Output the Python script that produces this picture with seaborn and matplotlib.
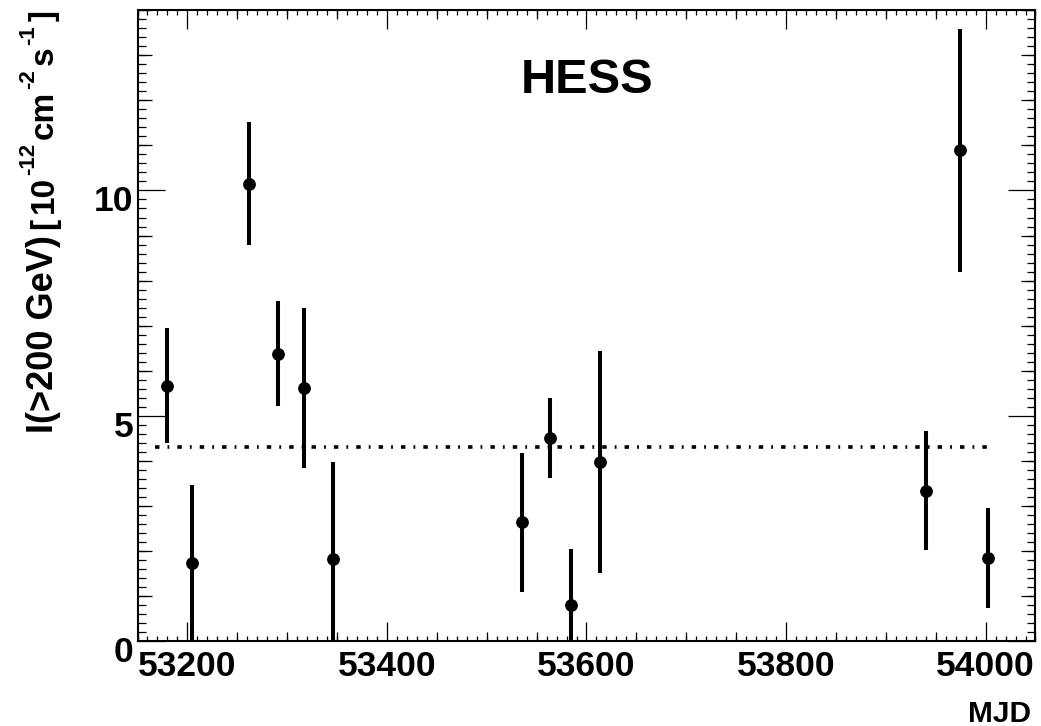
import numpy as np
import matplotlib
matplotlib.use('Agg')
import matplotlib.pyplot as plt
import matplotlib.transforms as mtransforms
from matplotlib.ticker import MultipleLocator
import seaborn as sns

# HESS light curve: integral flux above 200 GeV, units 1e-12 cm^-2 s^-1
mjd = [53180, 53205, 53262, 53291, 53317, 53346, 53535, 53563, 53584, 53614, 53940, 53974, 54002]
flux = [5.67, 1.74, 10.15, 6.38, 5.62, 1.83, 2.64, 4.51, 0.81, 3.97, 3.34, 10.89, 1.85]
flux_err = [1.28, 1.72, 1.37, 1.17, 1.78, 2.16, 1.55, 0.88, 1.24, 2.46, 1.32, 2.70, 1.11]

# constant fit
mean_flux = 4.32
mean_start, mean_end = 53168, 54002

x_major = [53200, 53400, 53600, 53800, 54000]
y_major = [0, 5, 10]

# y title pieces: text, font size (pt), superscript?, gap before (pt)
ylabel_parts = ['I(>200 GeV)', '[', '10', '-12', 'cm', '-2', 's', '-1', ']']
ylabel_size = [26, 24, 24, 16, 24, 16, 24, 16, 24]
ylabel_sup = [False, False, False, True, False, True, False, True, False]
ylabel_gap = [0, 5, 3, 1, 3, 1, 3, 1, 3]

sns.set_style('ticks')
plt.rcParams['font.family'] = ['Liberation Sans', 'DejaVu Sans']
plt.rcParams['font.weight'] = 'bold'
plt.rcParams['lines.scale_dashes'] = False
for k in ['text.color', 'axes.labelcolor', 'xtick.color', 'ytick.color', 'axes.edgecolor']:
    plt.rcParams[k] = 'black'

fig = plt.figure(figsize=(10.41, 7.26), dpi=100)
ax = fig.add_axes([0.1321, 0.1164, 0.8626, 0.8698])

ax.errorbar(mjd, flux, yerr=flux_err, fmt='none', ecolor='black',
            elinewidth=2.9, capsize=0, zorder=2)
sns.scatterplot(x=mjd, y=flux, s=85, color='black', edgecolor='black',
                linewidth=0, zorder=3, ax=ax, legend=False)
ax.plot([mean_start, mean_end], [mean_flux, mean_flux], color='black',
        linewidth=2.6, dashes=(3.2, 5.8, 1.3, 5.8), zorder=1)

ax.set_xlim(53150, 54050)
ax.set_ylim(0, 14)

for side in ['left', 'right', 'top', 'bottom']:
    ax.spines[side].set_visible(True)
    ax.spines[side].set_linewidth(1.5)
    ax.spines[side].set_color('black')

ax.set_xticks(x_major)
ax.set_yticks(y_major)
ax.xaxis.set_minor_locator(MultipleLocator(10))
ax.yaxis.set_minor_locator(MultipleLocator(0.2))
ax.tick_params(axis='x', which='major', direction='in', length=13.7, width=0.9,
               top=True, bottom=True, labelsize=25.5, pad=6)
ax.tick_params(axis='x', which='minor', direction='in', length=3.6, width=0.9,
               top=True, bottom=True)
ax.tick_params(axis='y', which='major', direction='in', length=19.4, width=0.9,
               left=True, right=True, labelsize=25.5, pad=3)
ax.tick_params(axis='y', which='minor', direction='in', length=5.9, width=0.9,
               left=True, right=True)

# medium-length ticks (every 50 MJD and every unit of flux)
x_mid = [v for v in np.arange(53150, 54051, 50) if v % 200 != 0]
y_mid = [v for v in range(0, 15) if v % 5 != 0]
for loc in ['bottom', 'top']:
    sec = ax.secondary_xaxis(loc)
    sec.set_xticks(x_mid)
    sec.tick_params(direction='in', length=6.8, width=0.9,
                    labelbottom=False, labeltop=False)
    sec.spines[loc].set_visible(False)
for loc in ['left', 'right']:
    sec = ax.secondary_yaxis(loc)
    sec.set_yticks(y_mid)
    sec.tick_params(direction='in', length=10, width=0.9,
                    labelleft=False, labelright=False)
    sec.spines[loc].set_visible(False)

# y tick labels sit a little below their ticks
shift = mtransforms.ScaledTranslation(0, -0.08, fig.dpi_scale_trans)
for lab in ax.get_yticklabels():
    lab.set_transform(lab.get_transform() + shift)

ax.set_xlabel('MJD', fontsize=21.5, fontweight='bold', loc='right')
ax.xaxis.set_label_coords(0.995, -0.092)

# y title, right-aligned to the top of the axis, built piece by piece
base_x = -0.0941
prev = None
for i in range(len(ylabel_parts) - 1, -1, -1):
    dx = -13.5 if ylabel_sup[i] else 0
    if prev is None:
        xy, coords, dy = (base_x, 1.0), ax.transAxes, 0
    else:
        xy, coords, dy = (base_x, 0.0), (ax.transAxes, prev), -ylabel_gap[i + 1]
    prev = ax.annotate(ylabel_parts[i], xy=xy, xycoords=coords,
                       xytext=(dx, dy), textcoords='offset points',
                       rotation=90, rotation_mode='anchor', ha='right',
                       va='baseline', fontsize=ylabel_size[i], fontweight='bold',
                       annotation_clip=False)

ax.text(0.501, 0.889, 'HESS', transform=ax.transAxes, ha='center', va='center',
        fontsize=35, fontweight='bold')

fig.savefig('out.png', dpi=100)
